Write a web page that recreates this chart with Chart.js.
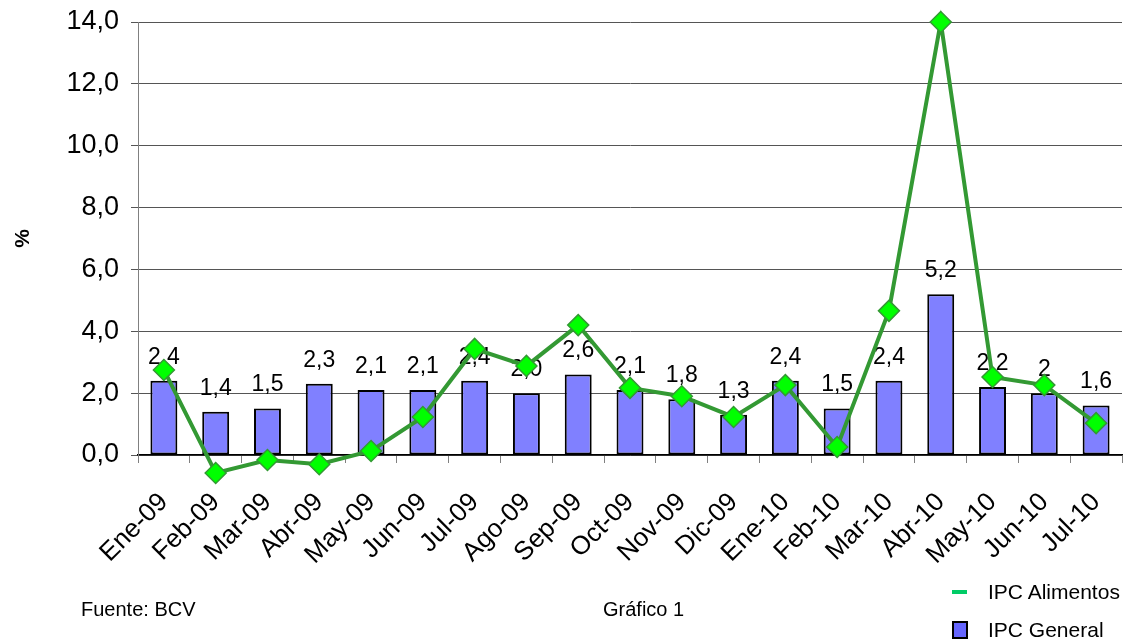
<!DOCTYPE html>
<html>
<head>
<meta charset="utf-8">
<script src="https://cdn.jsdelivr.net/npm/chart.js@4"></script>
<style>
  body { margin: 0; background: #fff; font-family: "Liberation Sans", Arial, sans-serif; }
  #wrap { position: relative; width: 1134px; height: 643px; overflow: hidden; }
  .note { position: absolute; font-size: 20px; color: #000; }
  .leg { position: absolute; left: 952px; display: flex; align-items: center; font-size: 21px; }
  .leg .sw { display: inline-block; }
</style>
</head>
<body>
<div id="wrap">
  <canvas id="chart" width="1134" height="643"></canvas>
  <div class="note" style="left:81px; top:598px;">Fuente: BCV</div>
  <div class="note" style="left:603px; top:598px;">Gráfico 1</div>
  <div id="legend"></div>
</div>
<script>
// Categories
const months = ['Ene-09', 'Feb-09', 'Mar-09', 'Abr-09', 'May-09', 'Jun-09', 'Jul-09', 'Ago-09', 'Sep-09',
  'Oct-09', 'Nov-09', 'Dic-09', 'Ene-10', 'Feb-10', 'Mar-10', 'Abr-10', 'May-10', 'Jun-10', 'Jul-10'];

// IPC General (bars) and IPC Alimentos (line), monthly %
const ipcGeneral = [2.4, 1.4, 1.5, 2.3, 2.1, 2.1, 2.4, 2.0, 2.6, 2.1, 1.8, 1.3, 2.4, 1.5, 2.4, 5.2, 2.2, 2.0, 1.6];
const ipcAlimentos = [2.75, -0.58, -0.16, -0.3, 0.13, 1.23, 3.43, 2.88, 4.2, 2.17, 1.9, 1.23, 2.26, 0.26, 4.66, 14.0, 2.52, 2.26, 1.03];

// Value labels as printed above the bars
const generalLabels = ['2,4', '1,4', '1,5', '2,3', '2,1', '2,1', '2,4', '2,0', '2,6', '2,1', '1,8', '1,3',
  '2,4', '1,5', '2,4', '5,2', '2,2', '2', '1,6'];

const generalColor = '#8080FF';
const alimentosLine = '#339933';
const alimentosMarker = '#00FF00';

const fontFamily = '"Liberation Sans", Arial, sans-serif';

// Draw value labels above the bars (before the line is drawn on top)
const barLabels = {
  id: 'barLabels',
  afterDatasetDraw(chart, args) {
    if (chart.data.datasets[args.index].type !== 'bar') return;
    const ctx = chart.ctx;
    ctx.save();
    ctx.font = '23px ' + fontFamily;
    ctx.fillStyle = '#000';
    ctx.textAlign = 'center';
    ctx.textBaseline = 'bottom';
    args.meta.data.forEach((bar, i) => {
      ctx.fillText(generalLabels[i], bar.x, bar.y - 12);
    });
    ctx.restore();
  }
};

// Let line markers below the zero line still be drawn (Excel draws them outside the plot)
const looseArea = {
  id: 'looseArea',
  beforeDatasetDraw(chart, args) {
    if (chart.data.datasets[args.index].type !== 'line') return;
    this._saved = chart.chartArea;
    chart.chartArea = Object.assign({}, chart.chartArea, { bottom: chart.chartArea.bottom + 40 });
  },
  afterDatasetDraw(chart, args) {
    if (chart.data.datasets[args.index].type !== 'line' || !this._saved) return;
    chart.chartArea = this._saved;
    this._saved = null;
  }
};

const chart = new Chart(document.getElementById('chart').getContext('2d'), {
  data: {
    labels: months,
    datasets: [
      {
        type: 'line',
        label: 'IPC Alimentos',
        data: ipcAlimentos,
        borderColor: alimentosLine,
        borderWidth: 4,
        pointStyle: 'rectRot',
        pointRadius: 10.5,
        pointBackgroundColor: alimentosMarker,
        pointBorderColor: alimentosLine,
        pointBorderWidth: 1.5,
        tension: 0,
        clip: false,
        order: 0
      },
      {
        type: 'bar',
        label: 'IPC General',
        data: ipcGeneral,
        backgroundColor: generalColor,
        borderColor: '#000',
        borderWidth: 2,
        borderSkipped: false,
        categoryPercentage: 1,
        barPercentage: 0.52,
        order: 1
      }
    ]
  },
  options: {
    responsive: false,
    animation: false,
    layout: { padding: { top: 22, right: 4, left: 0, bottom: 0 } },
    plugins: {
      legend: { display: false },
      tooltip: { enabled: false }
    },
    scales: {
      x: {
        offset: true,
        grid: { display: true, offset: true, drawOnChartArea: false, color: '#808080', tickLength: 8 },
        border: { color: '#000', width: 1.5 },
        ticks: {
          color: '#000',
          font: { family: fontFamily, size: 26 },
          minRotation: 45,
          maxRotation: 45,
          autoSkip: false,
          padding: 24
        },
        afterFit(scale) {
          scale.height = 188;
          scale.paddingLeft = 0;
          scale.paddingRight = 0;
        }
      },
      y: {
        min: 0,
        max: 14,
        ticks: {
          stepSize: 2,
          color: '#000',
          font: { family: fontFamily, size: 27 },
          padding: 12,
          callback: v => v.toFixed(1).replace('.', ',')
        },
        grid: { color: '#555', tickLength: 7 },
        border: { color: '#808080' },
        title: {
          display: true,
          text: '%',
          color: '#000',
          padding: { top: 11, bottom: 4 },
          font: { family: fontFamily, size: 21, weight: 'bold' }
        },
        afterFit(scale) {
          scale.width = 138;
          scale.paddingTop = 0;
          scale.paddingBottom = 0;
        }
      }
    }
  },
  plugins: [barLabels, looseArea]
});

// Legend in the lower right corner, built from the datasets
const legend = document.getElementById('legend');
const entries = [
  { label: chart.data.datasets[0].label, top: 580, sw: '<span class="sw" style="width:15px;height:4px;background:#00CC66;margin-right:21px;"></span>' },
  { label: chart.data.datasets[1].label, top: 618, sw: '<span class="sw" style="width:12px;height:14px;background:#6666FF;border:2px solid #000;margin-right:20px;"></span>' }
];
entries.forEach(e => {
  const div = document.createElement('div');
  div.className = 'leg';
  div.style.top = e.top + 'px';
  div.innerHTML = e.sw + '<span>' + e.label + '</span>';
  legend.appendChild(div);
});
</script>
</body>
</html>
